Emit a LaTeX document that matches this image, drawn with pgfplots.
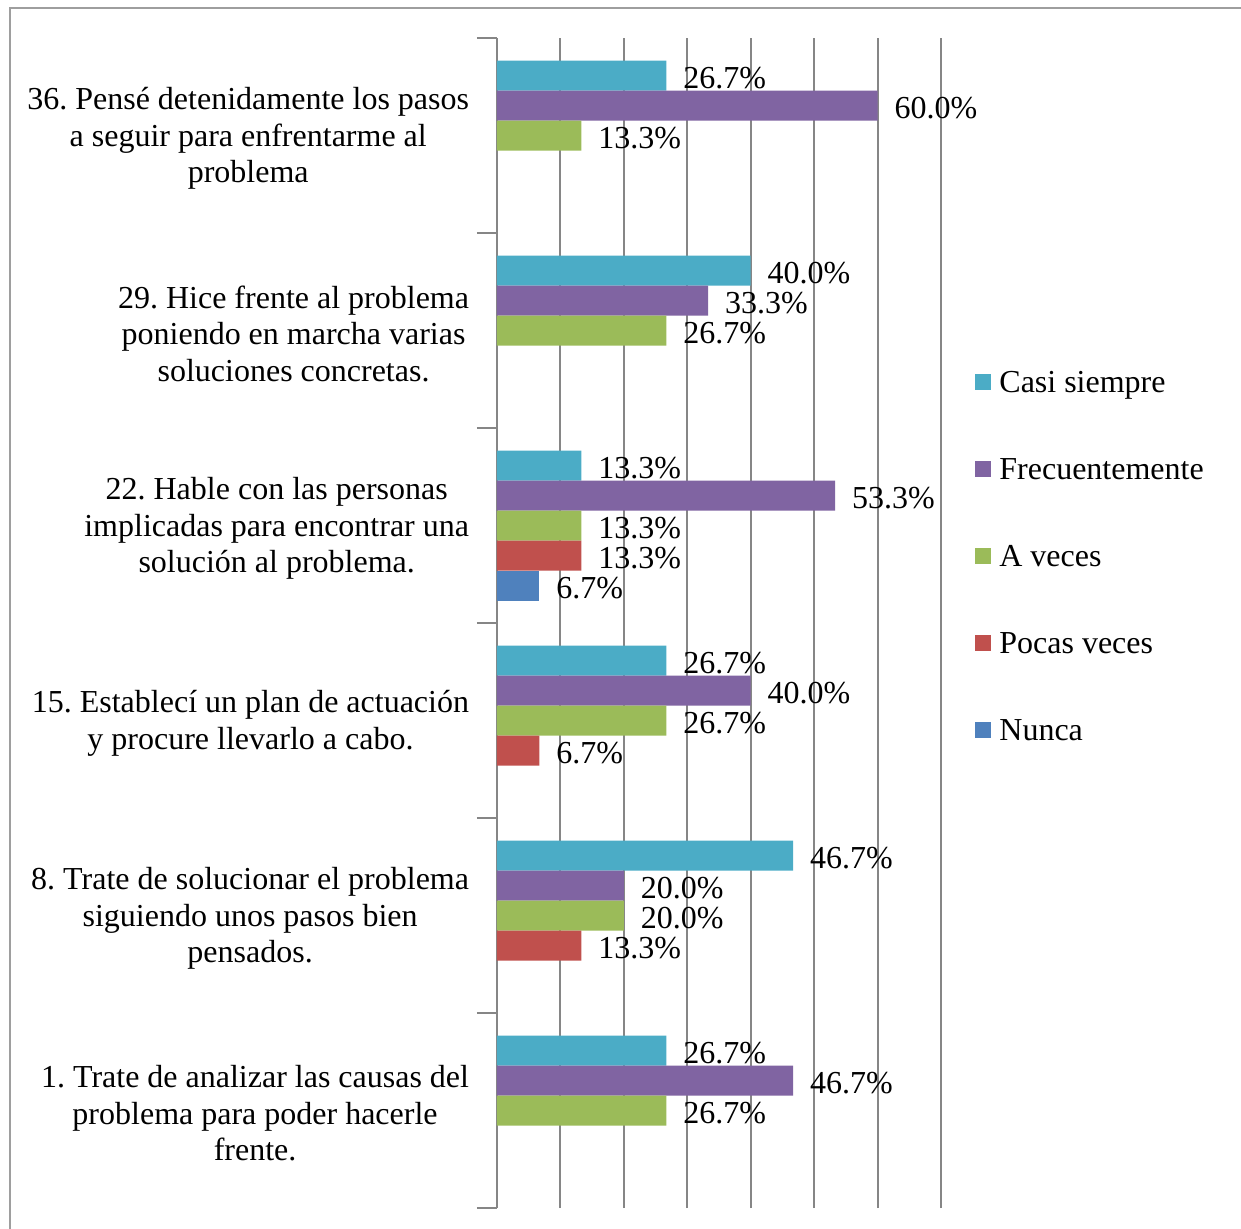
\documentclass[border=0pt]{standalone}
\usepackage{fontspec}
\setmainfont{Liberation Serif}
\usepackage{pgfplots}
\pgfplotsset{compat=1.18}
\definecolor{cCasi}{HTML}{4BACC6}
\definecolor{cFrec}{HTML}{8064A2}
\definecolor{cAve}{HTML}{9BBB59}
\definecolor{cPoc}{HTML}{C0504D}
\definecolor{cNun}{HTML}{4F81BD}
\definecolor{gridgray}{HTML}{868686}
\frenchspacing
\begin{document}
\begin{tikzpicture}[x=1pt,y=1pt]
\begin{axis}[
  scale only axis, width=222pt, height=585pt,
  xmin=0, xmax=70, ymin=-0.5, ymax=5.5,
  xbar, bar width=15pt,
  clip=false,
  axis lines*=left,
  axis line style={-, gridgray, line width=1pt},
  x axis line style={draw=none},
  xtick={0,10,...,70}, xticklabels={},
  xmajorgrids,
  grid style={gridgray, line width=1pt},
  x tick style={draw=none},
  ytick={0,1,2,3,4,5},
  y tick style={draw=none},
  yticklabels={
    {1. Trate de analizar las causas del\\problema para poder hacerle\\frente.},
    {8. Trate de solucionar el problema\\siguiendo unos pasos bien\\pensados.},
    {15. Establecí un plan de actuación\\y procure llevarlo a cabo.},
    {22. Hable con las personas\\implicadas para encontrar una\\solución al problema.},
    {29. Hice frente al problema\\poniendo en marcha varias\\soluciones concretas.},
    {36. Pensé detenidamente los pasos\\a seguir para enfrentarme al\\problema}},
  yticklabel style={align=center, anchor=east, inner sep=0pt, xshift=-9.5pt, yshift=-1.5pt,
    font=\frenchspacing\fontsize{16}{18.25}\selectfont},
  extra y ticks={-0.5,0.5,1.5,2.5,3.5,4.5,5.5},
  extra y tick labels={},
  extra y tick style={y tick style={draw=gridgray, line width=1pt}, major tick length=10pt, tick align=outside, grid=none},
  /pgf/number format/assume math mode=true,
  point meta=x,
  nodes near coords={\pgfmathprintnumber[fixed,fixed zerofill,precision=1]{\pgfplotspointmeta}\%},
  every node near coord/.append style={anchor=west, inner sep=0pt, xshift=8.3pt, yshift=-1.2pt,
    font=\fontsize{16}{18.25}\selectfont, text=black},
  legend style={at={(1.0766,0.5551)}, anchor=west, draw=none, fill=none, inner sep=0pt,
    row sep=29pt, column sep=0pt,
    cells={anchor=base west},
    nodes={inner sep=0pt, text height=11pt, text depth=3.5pt, font=\fontsize{16}{18.25}\selectfont},
    /tikz/every odd column/.style={column sep=4pt}},
  legend image code/.code={\fill[#1] (0pt,1pt) rectangle (8pt,9pt);},
]
\addplot[fill=cCasi, draw=none, bar shift=30pt] coordinates {(26.7,0) (46.7,1) (26.7,2) (13.3,3) (40.0,4) (26.7,5)};
\addplot[fill=cFrec, draw=none, bar shift=15pt] coordinates {(46.7,0) (20.0,1) (40.0,2) (53.3,3) (33.3,4) (60.0,5)};
\addplot[fill=cAve, draw=none, bar shift=0pt] coordinates {(26.7,0) (20.0,1) (26.7,2) (13.3,3) (26.7,4) (13.3,5)};
\addplot[fill=cPoc, draw=none, bar shift=-15pt] coordinates {(13.3,1) (6.7,2) (13.3,3)};
\addplot[fill=cNun, draw=none, bar shift=-30pt] coordinates {(6.7,3)};
\legend{Casi siempre, Frecuentemente, A veces, Pocas veces, Nunca}
\end{axis}
\pgfresetboundingbox
\useasboundingbox (-248.5,-10) rectangle (372,604);
\draw[color=gridgray!80, line width=1pt] (-243.25,-15) -- (-243.25,599.75) -- (390,599.75);
\end{tikzpicture}
\end{document}
